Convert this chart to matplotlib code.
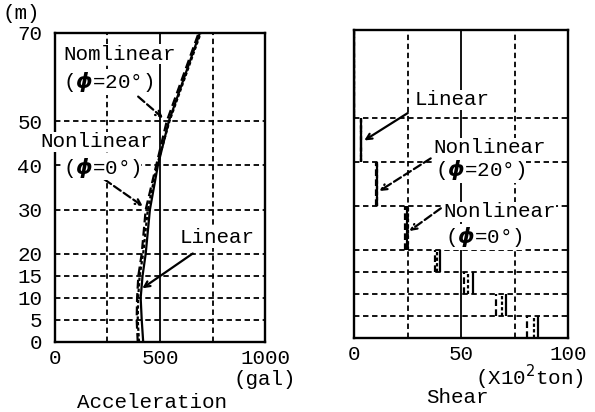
import matplotlib.pyplot as plt

# acceleration profiles (gal) vs depth (m)
depth = [0, 5, 10, 15, 20, 30, 40, 50, 70]
acc_linear = [420, 413, 408, 417, 432, 452, 490, 542, 690]
acc_nl0 = [394, 389, 391, 397, 413, 432, 482, 532, 684]
acc_nl20 = [400, 394, 396, 403, 420, 442, 486, 545, 694]

# shear (x10^2 ton) per layer
layer_bot = [0, 5, 10, 15, 20, 30, 40, 50]
layer_top = [5, 10, 15, 20, 30, 40, 50, 70]
shear_linear = [86.0, 71.0, 55.5, 40.2, 24.6, 10.6, 3.3, 0.0]
shear_nl0 = [80.7, 66.2, 51.4, 37.9, 24.0, 10.3, 3.3, 0.0]
shear_nl20 = [84.0, 69.0, 53.0, 38.9, 25.2, 10.5, 3.3, 0.0]

ytick_vals = [0, 5, 10, 15, 20, 30, 40, 50, 70]
hgrid = [5, 10, 15, 20, 30, 40, 50]

plt.rcParams['font.family'] = ['Liberation Mono', 'DejaVu Sans Mono']
plt.rcParams['mathtext.fontset'] = 'dejavusans'
FS = 15
dash = (0, (3, 2))
PHI = r'$\boldsymbol{\phi}$'

fig = plt.figure(figsize=(5.95, 4.12), dpi=100)
ax1 = fig.add_axes([0.0924, 0.170, 0.353, 0.750])
ax2 = fig.add_axes([0.595, 0.180, 0.360, 0.748])

box = dict(facecolor='white', edgecolor='none', pad=0.5)

# ---- acceleration panel
ax1.set_xlim(0, 1000)
ax1.set_ylim(0, 70)
for y in hgrid:
    ax1.axhline(y, color='black', lw=1.3, ls=dash, zorder=1)
ax1.axvline(250, color='black', lw=1.3, ls=dash, zorder=1)
ax1.axvline(750, color='black', lw=1.3, ls=dash, zorder=1)
ax1.axvline(500, color='black', lw=1.3, zorder=1)

ax1.plot(acc_linear, depth, color='black', lw=1.6, zorder=3)
ax1.plot(acc_nl0, depth, color='black', lw=1.6, ls=(0, (4, 2)), zorder=3)
ax1.plot(acc_nl20, depth, color='black', lw=1.6, ls=(0, (1.5, 1)), zorder=3)

ax1.set_xticks([0, 500, 1000])
ax1.set_xticklabels(['0', '500', '1000'], fontsize=FS)
ax1.set_yticks(ytick_vals)
ax1.set_yticklabels([str(v) for v in ytick_vals], fontsize=FS)
ax1.tick_params(axis='x', length=0, pad=5)
ax1.tick_params(axis='y', length=0, pad=9)
for s in ax1.spines.values():
    s.set_linewidth(1.7)

ax1.text(38, 65.2, 'Nomlinear', fontsize=FS, va='center', ha='left', bbox=box, zorder=4)
ax1.text(38, 58.9, '(' + PHI + '=20°)', fontsize=FS, va='center', ha='left', bbox=box, zorder=4)
ax1.annotate('', xy=(524, 50.3), xytext=(386, 56.0),
             arrowprops=dict(arrowstyle='->', ls='--', lw=1.6, color='black'))
ax1.text(-71, 45.3, 'Nonlinear', fontsize=FS, va='center', ha='left', bbox=box, zorder=4, clip_on=False)
ax1.text(38, 39.6, '(' + PHI + '=0°)', fontsize=FS, va='center', ha='left', bbox=box, zorder=4)
ax1.annotate('', xy=(429, 30.4), xytext=(224, 37.2),
             arrowprops=dict(arrowstyle='->', ls='--', lw=1.6, color='black'))
ax1.text(595, 23.6, 'Linear', fontsize=FS, va='center', ha='left', bbox=box, zorder=4)
ax1.annotate('', xy=(405, 11.8), xytext=(667, 20.4),
             arrowprops=dict(arrowstyle='->', lw=1.6, color='black'))

fig.text(0.005, 0.968, '(m)', fontsize=FS, va='center', ha='left')
fig.text(0.445, 0.078, '(gal)', fontsize=FS, va='center', ha='center')
fig.text(0.255, 0.024, 'Acceleration', fontsize=FS, va='center', ha='center')

# ---- shear panel
ax2.set_xlim(0, 100)
ax2.set_ylim(0, 70)
for y in hgrid:
    ax2.axhline(y, color='black', lw=1.3, ls=dash, zorder=1)
ax2.axvline(25, color='black', lw=1.3, ls=dash, zorder=1)
ax2.axvline(75, color='black', lw=1.3, ls=dash, zorder=1)
ax2.axvline(50, color='black', lw=1.3, zorder=1)

ax2.vlines(shear_linear, layer_bot, layer_top, color='black', lw=1.6, zorder=3)
ax2.vlines(shear_nl0, layer_bot, layer_top, color='black', lw=1.6, ls=(0, (3, 1.5)), zorder=3)
ax2.vlines(shear_nl20, layer_bot, layer_top, color='black', lw=1.6, ls=(0, (1.5, 1)), zorder=3)

ax2.set_xticks([0, 50, 100])
ax2.set_xticklabels(['0', '50', '100'], fontsize=FS)
ax2.set_yticks([])
ax2.tick_params(length=0, pad=5)
for s in ax2.spines.values():
    s.set_linewidth(1.7)

ax2.text(28.5, 54.1, 'Linear', fontsize=FS, va='center', ha='left', bbox=box, zorder=4)
ax2.annotate('', xy=(3.7, 44.5), xytext=(26.2, 51.4),
             arrowprops=dict(arrowstyle='->', lw=1.6, color='black'))
ax2.text(36.9, 43.2, 'Nonlinear', fontsize=FS, va='center', ha='left', bbox=box, zorder=4)
ax2.text(37.9, 38.2, '(' + PHI + '=20°)', fontsize=FS, va='center', ha='left', bbox=box, zorder=4)
ax2.annotate('', xy=(10.7, 33.0), xytext=(36.9, 41.1),
             arrowprops=dict(arrowstyle='->', ls='--', lw=1.6, color='black'))
ax2.text(41.6, 28.6, 'Nonlinear', fontsize=FS, va='center', ha='left', bbox=box, zorder=4)
ax2.text(42.5, 23.0, '(' + PHI + '=0°)', fontsize=FS, va='center', ha='left', bbox=box, zorder=4)
ax2.annotate('', xy=(24.8, 23.9), xytext=(41.6, 29.8),
             arrowprops=dict(arrowstyle='->', ls='--', lw=1.6, color='black'))

fig.text(0.890, 0.083, '(X10$^2$ton)', fontsize=FS, va='center', ha='center')
fig.text(0.768, 0.034, 'Shear', fontsize=FS, va='center', ha='center')

fig.savefig('out.png', dpi=100)
